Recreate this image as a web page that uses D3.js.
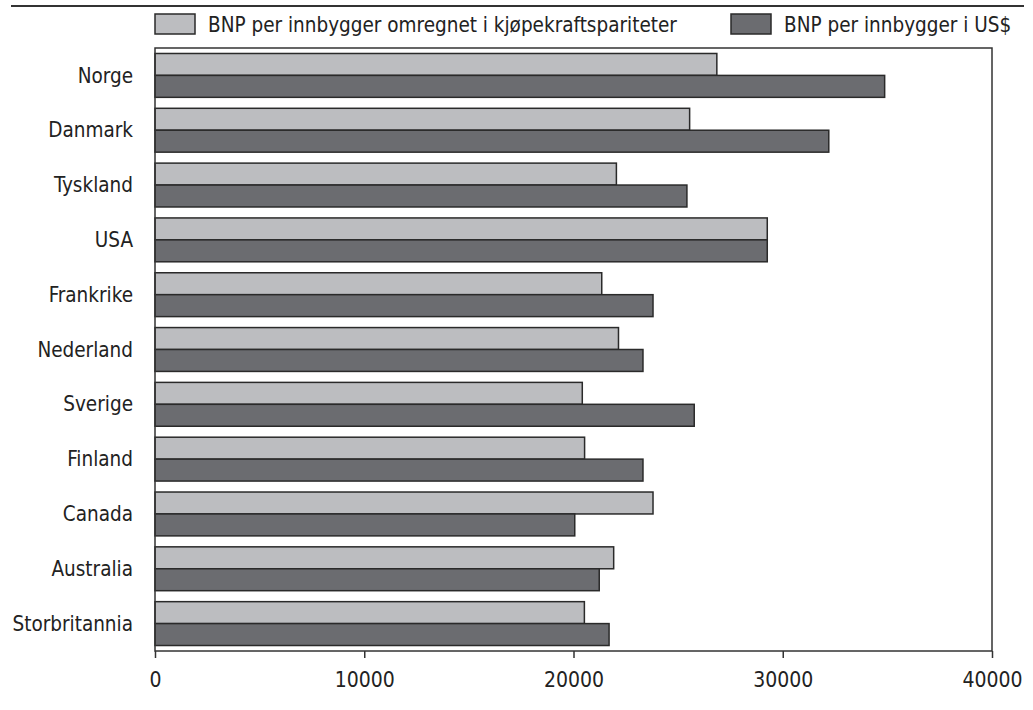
<!DOCTYPE html>
<html>
<head>
<meta charset="utf-8">
<script src="https://cdn.jsdelivr.net/npm/d3@7"></script>
<style>
  body { margin: 0; background: #fff; }
  svg text { font-family: "DejaVu Sans Condensed", "Liberation Sans Narrow", sans-serif; fill: #222; }
</style>
</head>
<body>
<div id="chart"></div>
<script>
// data
const countries = ["Norge", "Danmark", "Tyskland", "USA", "Frankrike", "Nederland",
  "Sverige", "Finland", "Canada", "Australia", "Storbritannia"];
const seriesNames = ["BNP per innbygger omregnet i kjøpekraftspariteter", "BNP per innbygger i US$"];
const ppp = [26850, 25550, 22050, 29260, 21350, 22150, 20420, 20530, 23800, 21920, 20520];
const usd = [34870, 32200, 25420, 29260, 23800, 23320, 25770, 23320, 20060, 21230, 21700];
const xTicks = [0, 10000, 20000, 30000, 40000];
const colors = ["#bcbdc0", "#6b6c70"];

const width = 1033, height = 710;
const margin = { top: 48, right: 41, bottom: 59, left: 155 };
const w = width - margin.left - margin.right;
const h = height - margin.top - margin.bottom;
const fontFamily = "'DejaVu Sans Condensed', 'Liberation Sans Narrow', sans-serif";

const svg = d3.select("#chart").append("svg")
  .attr("width", width)
  .attr("height", height);

// top rule
svg.append("line")
  .attr("x1", 11).attr("x2", 1024)
  .attr("y1", 6).attr("y2", 6)
  .attr("stroke", "#333").attr("stroke-width", 2);

const g = svg.append("g").attr("transform", `translate(${margin.left},${margin.top})`);

const x = d3.scaleLinear().domain([0, 40000]).range([0, w]);
const y = d3.scaleBand().domain(countries).range([0, h]).paddingInner(0.2).paddingOuter(0.1);
const ySub = d3.scaleBand().domain([0, 1]).range([0, y.bandwidth()]);

const rows = countries.map((c, i) => ({ country: c, values: [ppp[i], usd[i]] }));

const group = g.selectAll(".row")
  .data(rows)
  .enter()
  .append("g")
  .attr("class", "row")
  .attr("transform", d => `translate(0,${y(d.country)})`);

group.selectAll("rect")
  .data(d => d.values)
  .enter()
  .append("rect")
  .attr("x", x(0))
  .attr("y", (d, i) => ySub(i))
  .attr("width", d => x(d) - x(0))
  .attr("height", ySub.bandwidth())
  .attr("fill", (d, i) => colors[i])
  .attr("stroke", "#2a2a2a")
  .attr("stroke-width", 1.5);

// frame
g.append("rect")
  .attr("x", 0).attr("y", 0)
  .attr("width", w).attr("height", h)
  .attr("fill", "none")
  .attr("stroke", "#333")
  .attr("stroke-width", 1.5);

// x axis
const xAxis = g.append("g")
  .attr("transform", `translate(0,${h})`)
  .call(d3.axisBottom(x).tickValues(xTicks).tickFormat(d3.format("d")).tickSize(7).tickPadding(14));
xAxis.select(".domain").remove();
xAxis.selectAll(".tick line").attr("stroke", "#333").attr("stroke-width", 1.5);
xAxis.selectAll(".tick text").attr("font-size", 21).attr("fill", "#222")
  .style("font-family", fontFamily);

// y labels
g.append("g")
  .selectAll("text")
  .data(countries)
  .enter()
  .append("text")
  .attr("x", -22)
  .attr("y", d => y(d) + y.bandwidth() / 2)
  .attr("dy", "0.35em")
  .attr("text-anchor", "end")
  .attr("font-size", 20.5)
  .text(d => d);

// legend
const legendX = [155, 731];
const legend = svg.append("g").attr("class", "legend");
const item = legend.selectAll("g")
  .data(seriesNames)
  .enter()
  .append("g")
  .attr("transform", (d, i) => `translate(${legendX[i]},14)`);
item.append("rect")
  .attr("width", 40).attr("height", 20)
  .attr("fill", (d, i) => colors[i])
  .attr("stroke", "#2a2a2a")
  .attr("stroke-width", 1.5);
item.append("text")
  .attr("x", 53)
  .attr("y", 18)
  .attr("font-size", 20.5)
  .text(d => d);
</script>
</body>
</html>
